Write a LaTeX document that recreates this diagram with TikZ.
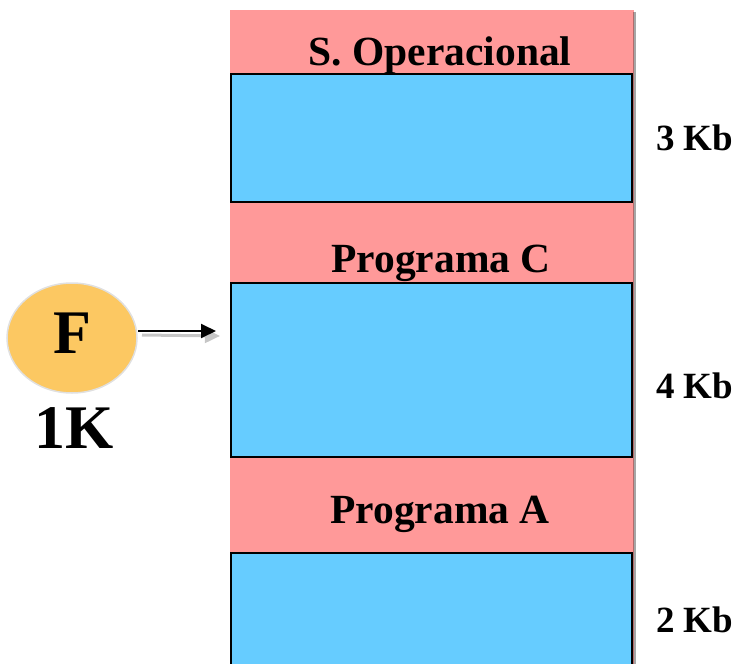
\documentclass[tikz,border=0pt]{standalone}
\usepackage{fontspec}
\setmainfont{Liberation Serif}
\usetikzlibrary{arrows.meta,shapes.geometric}
\definecolor{pinkc}{HTML}{FF9999}
\definecolor{bluec}{HTML}{66CCFF}
\definecolor{orangec}{HTML}{FCC862}
\begin{document}
\begin{tikzpicture}[x=1pt,y=-1pt,
  seg/.style={fill=bluec,draw=black,line width=2pt,inner sep=0pt},
  lbl/.style={font=\fontsize{41.5}{44}\selectfont\bfseries,inner sep=0pt,anchor=base},
  kb/.style={font=\fontsize{37}{40}\selectfont\bfseries,inner sep=0pt,anchor=base west},
  big/.style={font=\fontsize{62}{66}\selectfont\bfseries,inner sep=0pt,anchor=base}]
\useasboundingbox (0,0) rectangle (740,664);
% memory column
\fill[gray!70] (634,12) rectangle (636,664);
\fill[pinkc] (230,10) rectangle (634,664);
\draw[pinkc!70!black,line width=0.8pt] (633.6,12) -- (633.6,664);
% blue segments
\node[seg,minimum width=401pt,minimum height=128pt] (b1) at (431.5,138) {};
\node[seg,minimum width=401pt,minimum height=174pt] (b2) at (431.5,370) {};
\fill[bluec] (231,553) rectangle (632,664);
\coordinate (b3nw) at (231,553);
\coordinate (b3ne) at (632,553);
\coordinate (b3sw) at (231,664);
\coordinate (b3se) at (632,664);
\draw[line width=2pt] (b3sw) -- (b3nw) -- (b3ne) -- (b3se);
% labels
\node[lbl] (so) at (440,65) {S. Operacional};
\node[lbl] (pc) at (441,272) {Programa C};
\node[lbl] (pa) at (440,523) {Programa A};
\node[kb] (k3) at (656,150) {3 Kb};
\node[kb] (k4) at (656,398) {4 Kb};
\node[kb] (k2) at (656,632) {2 Kb};
% process F
\node[ellipse,fill=orangec,draw=black!12,line width=1.5pt,minimum width=130pt,minimum height=110pt,inner sep=0pt] (f) at (72,338) {};
\node[big] (ft) at (72,353) {F};
\node[big] (k1) at (74,448) {1K};
\coordinate (arrstart) at (138,331);
\coordinate (arrend) at (216,331);
\coordinate (shstart) at (142,335);
\coordinate (shend) at (220,336);
\draw[gray!45,line width=3pt,-{Triangle[length=15pt,width=14pt]}] (shstart) -- (shend);
\draw[black,line width=2pt,-{Triangle[length=15pt,width=14pt]}] (arrstart) -- (arrend);
\end{tikzpicture}
\end{document}
